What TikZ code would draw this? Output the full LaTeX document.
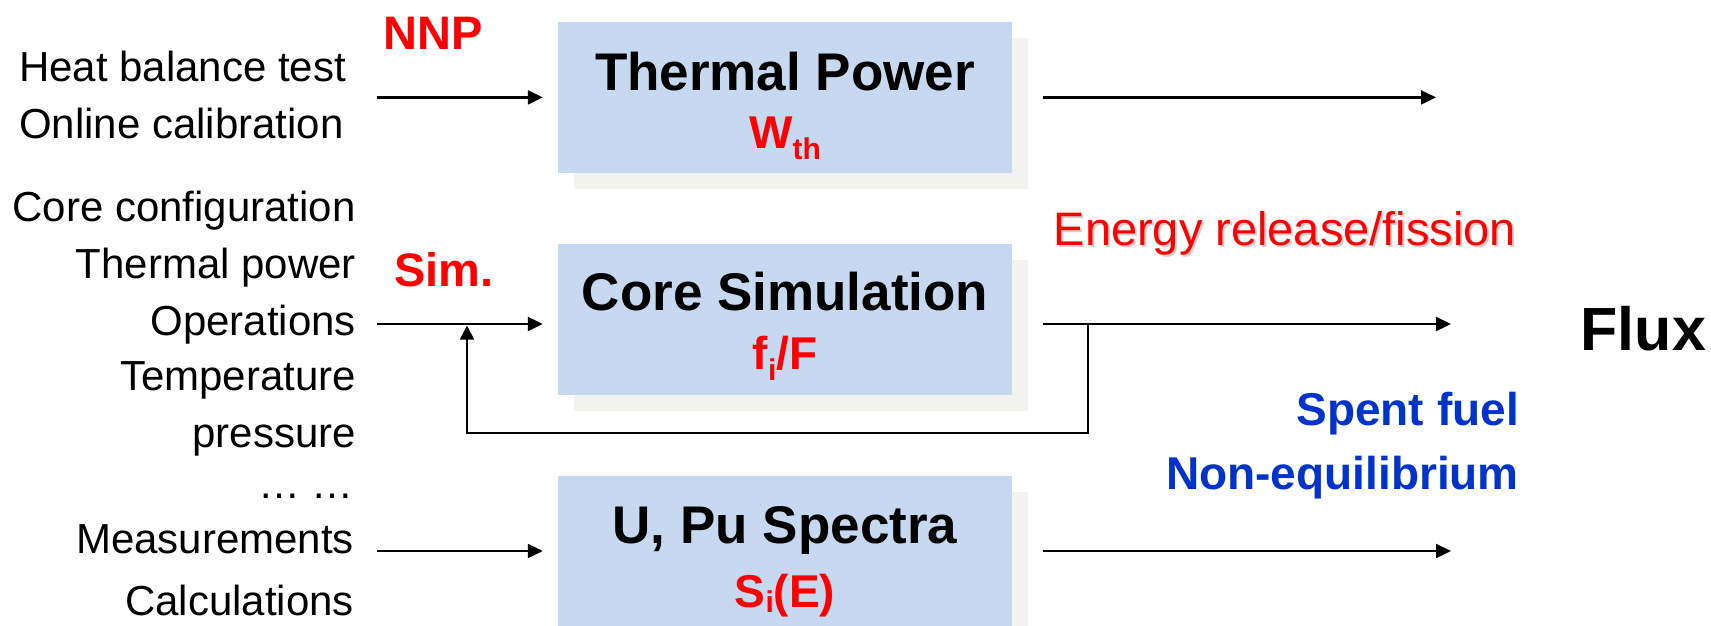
\documentclass[tikz,border=0pt]{standalone}
\usepackage{fontspec}
\setmainfont{Liberation Sans}
\usetikzlibrary{arrows.meta,shadows}
\definecolor{boxfill}{HTML}{C6D9F0}
\definecolor{shadowc}{HTML}{F2F2EE}
\definecolor{lblred}{HTML}{FF0000}
\definecolor{lblblue}{HTML}{0033CC}
\newcommand{\fsz}[1]{\fontsize{#1}{#1}\selectfont}
\newcommand{\lowsub}[2]{\raisebox{-#2}{\fsz{30}#1}}
\begin{document}
\begin{tikzpicture}[x=1pt,y=-1pt,
  box/.style={fill=boxfill, draw=none, minimum width=454pt, minimum height=151pt, inner sep=0pt,
    drop shadow={shadow xshift=16pt, shadow yshift=-16pt, fill=shadowc, opacity=1}},
  intext/.style={inner sep=0pt, font=\fsz{42}},
  redlbl/.style={inner sep=0pt, text=lblred, font=\fsz{47}\bfseries},
  bluelbl/.style={inner sep=0pt, text=lblblue, font=\fsz{46}\bfseries},
  title/.style={inner sep=0pt, anchor=base, font=\fsz{53}\bfseries},
  subt/.style={inner sep=0pt, anchor=base, text=lblred, font=\fsz{46}\bfseries},
  conn/.style={line width=2.2pt, -{Triangle[length=15pt,width=14pt]}},
  fbline/.style={line width=1.7pt, -{Triangle[length=14pt,width=14pt]}}
]
\path[use as bounding box, clip] (0,0) rectangle (1711,625);

% boxes
\node[box] (tp) at (785,97.4) {};
\node[box] (cs) at (785,319) {};
\node[box] (su) at (785,551) {};

\node[title] (tpt) at (785,90) {Thermal Power};
\node[subt] (tps) at (785,148) {W\lowsub{th}{11pt}};
\node[title] (cst) at (785,310) {Core Simulation};
\node[subt] (css) at (785,369.3) {f\lowsub{i}{11pt}/F};
\node[title] (sut) at (785,543.3) {U, Pu Spectra};
\node[subt] (sus) at (785,607.5) {S\lowsub{i}{5pt}(E)};

% left inputs
\node[intext, anchor=base west] (l1) at (19,81.7) {Heat balance test};
\node[intext, anchor=base west] (l2) at (19,138.3) {Online calibration};
\node[intext, anchor=base east] (l3) at (356,221.7) {Core configuration};
\node[intext, anchor=base east] (l4) at (356,278.3) {Thermal power};
\node[intext, anchor=base east] (l5) at (356,335) {Operations};
\node[intext, anchor=base east] (l6) at (356,390.7) {Temperature};
\node[intext, anchor=base east] (l7) at (356,447.3) {pressure};
\node[intext, anchor=base east] (l8) at (354,498.3) {\ldots\ \ldots};
\node[intext, anchor=base east] (l9) at (354,553.3) {Measurements};
\node[intext, anchor=base east] (l10) at (354,615) {Calculations};

\node[redlbl, anchor=base west] (nnp) at (383,49.3) {NNP};
\node[redlbl, anchor=base west] (sim) at (394,286) {Sim.};

% right side labels
\node[inner sep=0pt, anchor=base west, text=gray!60, opacity=0.6, font=\fsz{47}] (ers) at (1055.5,247) {Energy release/fission};
\node[inner sep=0pt, anchor=base west, text=lblred, font=\fsz{47}] (er) at (1053.5,245) {Energy release/fission};
\node[bluelbl, anchor=base east] (sf) at (1519,425) {Spent fuel};
\node[bluelbl, anchor=base east] (ne) at (1519,489.3) {Non-equilibrium};
\node[inner sep=0pt, anchor=base west, font=\fsz{61}\bfseries] (flux) at (1580.5,350.7) {Flux};

% connectors
\coordinate (a1s) at (377,97.4);
\coordinate (a2s) at (377,324);
\coordinate (a3s) at (377,551);
\coordinate (o1) at (1436,97.4);
\coordinate (o2) at (1451,324);
\coordinate (o3) at (1451,551);
\coordinate (fbj) at (1088,324);
\coordinate (fbt) at (467,325.5);

\draw[conn, shorten >=15pt] (a1s) -- (tp.west);
\draw[conn, shorten >=15pt] (a2s) -- (a2s -| cs.west);
\draw[conn, shorten >=15pt] (a3s) -- (su.west);
\draw[conn, shorten <=31pt] (tp.east) -- (o1);
\draw[conn, shorten <=31pt] (cs.east |- o2) -- (o2);
\draw[conn, shorten <=31pt] (su.east) -- (o3);
\draw[fbline] (fbj) -- ++(0,109) -| (fbt);
\end{tikzpicture}
\end{document}
